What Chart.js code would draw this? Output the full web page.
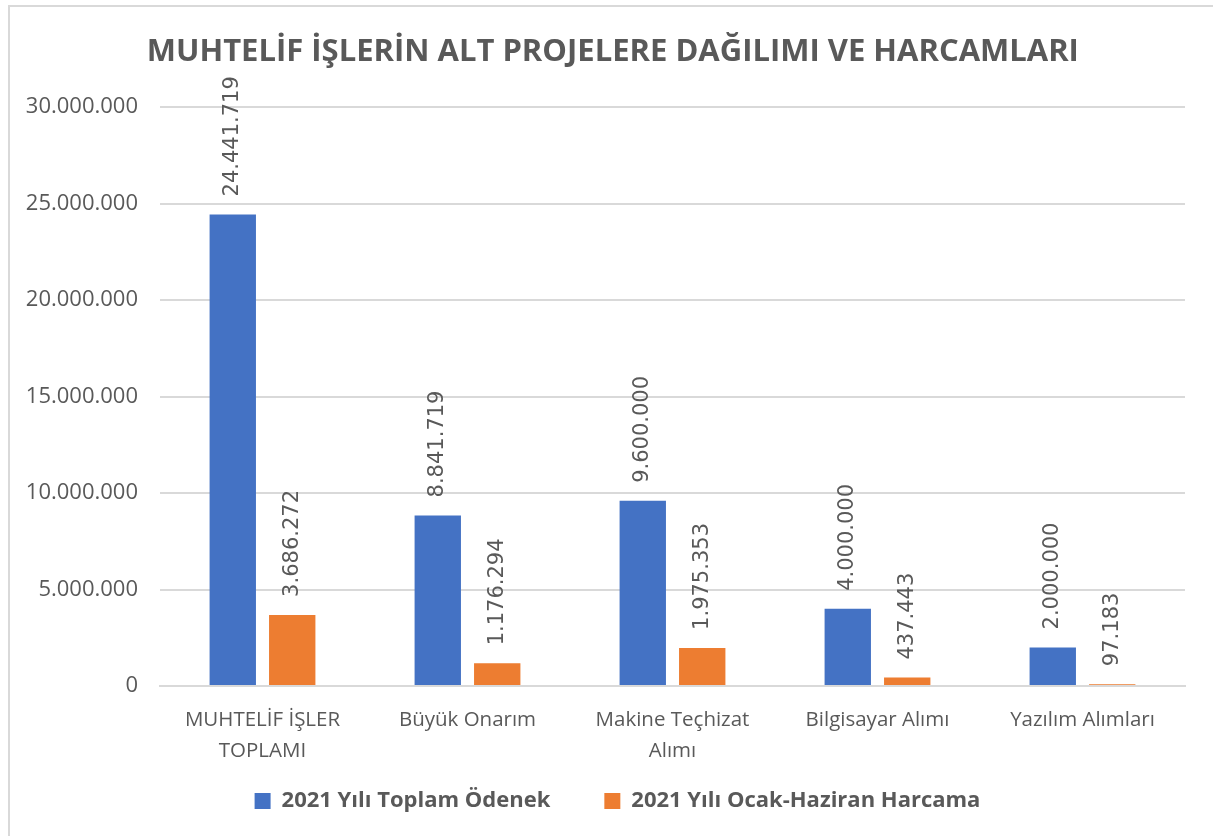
<!DOCTYPE html>
<html lang="tr">
<head>
<meta charset="utf-8">
<script src="https://cdn.jsdelivr.net/npm/chart.js@4.4.1/dist/chart.umd.min.js"></script>
<style>
  html, body { margin: 0; padding: 0; background: #fff; overflow: hidden; }
  #wrap { position: absolute; left: 0; top: 0; width: 1213px; height: 836px; }
  #frame { position: absolute; left: 8px; top: 5px; width: 1220px; height: 850px;
           border: 2px solid #d9d9d9; box-sizing: border-box; }
</style>
</head>
<body>
<div id="frame"></div>
<div id="wrap"><canvas id="grafik" width="1213" height="836"></canvas></div>
<script>
// kategoriler ve seriler
const kategoriler = [
  ['MUHTELİF İŞLER', 'TOPLAMI'],
  'Büyük Onarım',
  ['Makine Teçhizat', 'Alımı'],
  'Bilgisayar Alımı',
  'Yazılım Alımları'
];
const toplamOdenek = [24441719, 8841719, 9600000, 4000000, 2000000];
const ocakHaziranHarcama = [3686272, 1176294, 1975353, 437443, 97183];
const yEkseniDegerleri = [0, 5000000, 10000000, 15000000, 20000000, 25000000, 30000000];

const gri = '#595959';

// binlik ayraç nokta
function noktali(v) {
  return String(v).replace(/\B(?=(\d{3})+(?!\d))/g, '.');
}

// çubukların üstüne dik yazılan değerler
const degerEtiketleri = {
  id: 'degerEtiketleri',
  afterDatasetsDraw(chart) {
    const ctx = chart.ctx;
    chart.data.datasets.forEach((ds, i) => {
      const meta = chart.getDatasetMeta(i);
      meta.data.forEach((bar, j) => {
        ctx.save();
        ctx.translate(bar.x, bar.y - 18);
        ctx.rotate(-Math.PI / 2);
        ctx.font = '21px "DejaVu Sans"';
        ctx.fillStyle = gri;
        ctx.textAlign = 'left';
        ctx.textBaseline = 'middle';
        ctx.fillText(noktali(ds.data[j]), 0, 0);
        ctx.restore();
      });
    });
  }
};

new Chart(document.getElementById('grafik').getContext('2d'), {
  type: 'bar',
  data: {
    labels: kategoriler,
    datasets: [
      { label: '2021 Yılı Toplam Ödenek', data: toplamOdenek, backgroundColor: '#4472c4' },
      { label: '2021 Yılı Ocak-Haziran Harcama', data: ocakHaziranHarcama, backgroundColor: '#ed7d31' }
    ]
  },
  options: {
    responsive: false,
    animation: false,
    devicePixelRatio: 1,
    layout: { padding: { left: 20, right: 28, top: 34, bottom: 14 } },
    datasets: { bar: { categoryPercentage: 0.58, barPercentage: 0.78 } },
    plugins: {
      title: {
        display: true,
        // baştaki ince boşluklar başlığı biraz sağa kaydırıyor
        text: '\u2004\u2004MUHTELİF İŞLERİN ALT PROJELERE DAĞILIMI VE HARCAMLARI',
        color: gri,
        font: { family: 'Open Sans', size: 31, weight: 'bold' },
        padding: { top: 0, bottom: 36 }
      },
      legend: {
        position: 'bottom',
        fullSize: false,
        labels: {
          color: gri,
          font: { family: 'Open Sans', size: 22, weight: 'bold' },
          boxWidth: 16,
          boxHeight: 16,
          padding: 10,
          // öğeler arası boşluk ve ortalama ayarı
          generateLabels(chart) {
            const items = Chart.defaults.plugins.legend.labels.generateLabels(chart);
            items[0].text += '\u2003\u2003';
            items[items.length - 1].text += '\u2003\u2003\u2003\u2003\u2003';
            return items;
          }
        }
      },
      tooltip: { enabled: false }
    },
    scales: {
      x: {
        grid: { display: false },
        border: { color: '#d9d9d9', width: 2 },
        afterFit(scale) { scale.height = 94; },
        ticks: { color: gri, font: { family: 'Open Sans', size: 20.5, lineHeight: 1.5 }, padding: 11, maxRotation: 0 }
      },
      y: {
        min: 0,
        max: 30000000,
        afterBuildTicks(scale) {
          scale.ticks = yEkseniDegerleri.map(v => ({ value: v }));
        },
        afterFit(scale) { scale.width = 140; },
        grid: { color: '#d9d9d9', lineWidth: 2, drawTicks: false },
        border: { display: false },
        ticks: { color: gri, font: { family: 'Open Sans', size: 22 }, padding: 22,
                 callback: v => noktali(v) }
      }
    }
  },
  plugins: [degerEtiketleri]
});
</script>
</body>
</html>
